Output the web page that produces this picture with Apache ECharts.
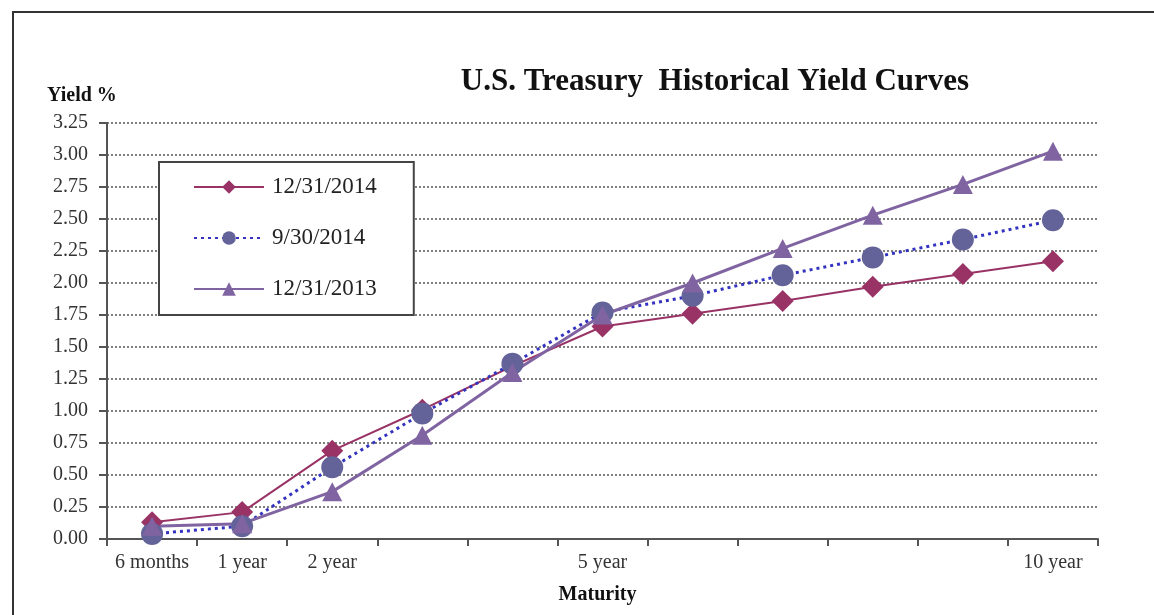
<!DOCTYPE html>
<html>
<head>
<meta charset="utf-8">
<script src="https://cdn.jsdelivr.net/npm/echarts@6/dist/echarts.min.js"></script>
<style>
  html, body { margin: 0; padding: 0; background: #fff; }
  #chart { width: 1154px; height: 615px; }
</style>
</head>
<body>
<div id="chart"></div>
<script>
const categories = ['6 months', '1 year', '2 year', '3 year', '4 year', '5 year', '6 year', '7 year', '8 year', '9 year', '10 year']
const shownLabels = ['6 months', '1 year', '2 year', '5 year', '10 year']
const seriesNames = ['12/31/2014', '9/30/2014', '12/31/2013']
const dec2014 = [0.13, 0.21, 0.69, 1.01, 1.35, 1.66, 1.76, 1.86, 1.97, 2.07, 2.17]
const sep2014 = [0.04, 0.10, 0.56, 0.98, 1.37, 1.77, 1.90, 2.06, 2.20, 2.34, 2.49]
const dec2013 = [0.10, 0.12, 0.37, 0.81, 1.30, 1.75, 2.00, 2.27, 2.53, 2.77, 3.03]

const serif = "'Liberation Serif', 'DejaVu Serif', serif"

const chart = echarts.init(document.getElementById('chart'))

const option = {
  animation: false,
  textStyle: { fontFamily: serif },
  graphic: [
    {
      type: 'rect',
      shape: { x: 13, y: 12, width: 1160, height: 620 },
      style: { fill: 'none', stroke: '#333', lineWidth: 2 }
    },
    {
      type: 'text',
      style: {
        text: 'U.S. Treasury  Historical Yield Curves',
        x: 715, y: 82,
        align: 'center', verticalAlign: 'middle',
        font: 'bold 31px ' + serif,
        fill: '#111'
      }
    },
    {
      type: 'text',
      style: {
        text: 'Yield %',
        x: 47, y: 96,
        align: 'left', verticalAlign: 'middle',
        font: 'bold 20px ' + serif,
        fill: '#111'
      }
    }
  ],
  grid: { left: 107, right: 56, top: 123, bottom: 76 },
  legend: {
    data: seriesNames,
    orient: 'vertical',
    left: 159,
    top: 162,
    padding: [13, 37, 14, 34],
    itemWidth: 70,
    itemHeight: 17,
    itemGap: 27,
    backgroundColor: '#fff',
    borderColor: '#444',
    borderWidth: 2,
    textStyle: { fontSize: 23, lineHeight: 24, color: '#222', fontFamily: serif, padding: [0, 0, 0, 3] }
  },
  xAxis: {
    type: 'category',
    data: categories,
    boundaryGap: true,
    name: 'Maturity',
    nameLocation: 'middle',
    nameGap: 46,
    nameTextStyle: { fontSize: 20, fontWeight: 'bold', color: '#111', fontFamily: serif, padding: [0, 10, 0, 0] },
    axisLine: { lineStyle: { color: '#555', width: 2 } },
    axisTick: { show: true, length: 7, lineStyle: { color: '#555', width: 2 } },
    axisLabel: {
      interval: 0,
      margin: 14,
      fontSize: 20,
      color: '#333',
      fontFamily: serif,
      formatter: (val) => shownLabels.includes(val) ? val : ''
    },
    splitLine: { show: false }
  },
  yAxis: {
    type: 'value',
    min: 0,
    max: 3.25,
    interval: 0.25,
    axisLine: { show: true, lineStyle: { color: '#555', width: 2 } },
    axisTick: { show: true, length: 8, lineStyle: { color: '#555', width: 2 } },
    axisLabel: {
      margin: 19,
      fontSize: 20,
      color: '#333',
      fontFamily: serif,
      formatter: (v) => v.toFixed(2)
    },
    splitLine: { lineStyle: { color: '#555', width: 1.5, type: [2, 2] } }
  },
  series: [
    {
      name: seriesNames[0],
      type: 'line',
      data: dec2014,
      symbol: 'diamond',
      symbolSize: 22,
      itemStyle: { color: '#993366' },
      lineStyle: { color: '#993366', width: 2 }
    },
    {
      name: seriesNames[1],
      type: 'line',
      data: sep2014,
      symbol: 'circle',
      symbolSize: 22,
      itemStyle: { color: '#636399' },
      lineStyle: { color: '#3333c0', width: 3, type: [3, 4] }
    },
    {
      name: seriesNames[2],
      type: 'line',
      data: dec2013,
      symbol: 'triangle',
      symbolSize: [20, 19],
      itemStyle: { color: '#8064a2' },
      lineStyle: { color: '#8064a2', width: 3 }
    }
  ]
}

chart.setOption(option)
window.addEventListener('resize', () => chart.resize())
</script>
</body>
</html>
